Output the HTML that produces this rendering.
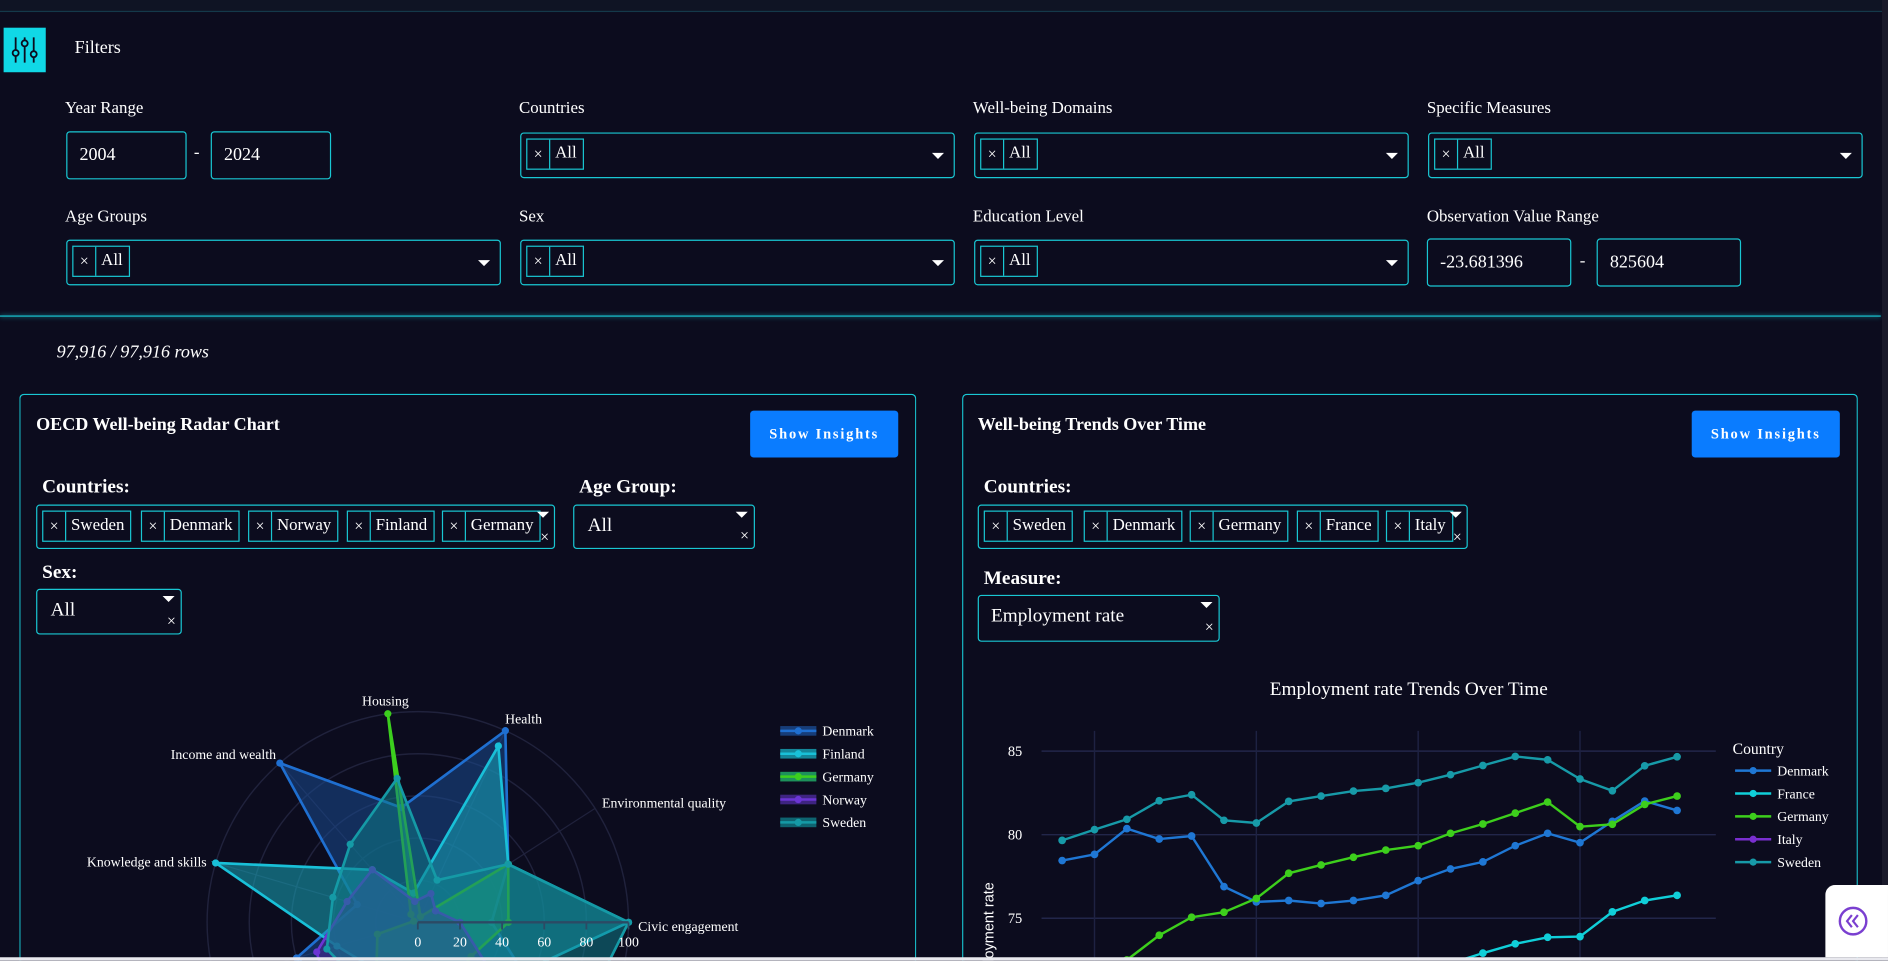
<!DOCTYPE html>
<html><head><meta charset="utf-8">
<style>
html,body{margin:0;padding:0;width:1888px;height:961px;overflow:hidden;background:#0c0c1e;}
#wrap{position:absolute;left:0;top:0;width:1568px;height:798px;transform:scale(1.20408);transform-origin:0 0;overflow:hidden;background:#0c0c1e;font-family:"Liberation Serif",serif;color:#fff;}
.abs{position:absolute;}
.lbl{position:absolute;font-size:14px;color:#fff;}
.inp{position:absolute;border:1px solid #19c7d3;border-radius:3px;box-sizing:border-box;font-size:15px;padding-left:10px;display:flex;align-items:center;background:#0c0c1e;}
.sel{position:absolute;border:1px solid #19c7d3;border-radius:3px;box-sizing:border-box;background:#0c0c1e;}
.chip{position:absolute;top:4px;height:26px;border:1px solid #19c7d3;box-sizing:border-box;font-size:14px;display:flex;align-items:center;white-space:nowrap;}
.chip span.x{display:inline-block;width:18px;text-align:center;border-right:1px solid #19c7d3;height:100%;line-height:24px;font-size:13px;margin-right:4px;}
.chip span.t{padding-right:5px;}
.caret{position:absolute;width:0;height:0;border-left:5px solid transparent;border-right:5px solid transparent;border-top:5px solid #fff;}
.card{position:absolute;top:327px;border:1px solid #19c7d3;border-bottom:none;border-radius:4px 4px 0 0;height:471px;box-sizing:border-box;}
.btn{position:absolute;top:341px;width:123px;height:39px;background:#0a7cff;border-radius:3px;color:#fff;font-weight:bold;font-size:12px;letter-spacing:1.5px;display:flex;align-items:center;justify-content:center;}
.h3{position:absolute;font-weight:bold;font-size:15px;}
.h4{position:absolute;font-weight:bold;font-size:16px;}
</style></head><body>
<div id="wrap">
<div class="abs" style="left:0;top:0;width:1568px;height:9px;background:#0f1424;border-bottom:1px solid #14394a;"></div>
<div class="abs" style="left:0;top:262px;width:1562px;height:1px;background:#19c7d3;box-shadow:0 0 4px #19c7d3;"></div>
<div class="abs" style="left:1563px;top:0;width:5px;height:798px;background:#1a1a2a;"></div>
<div class="abs" style="left:3px;top:23px;width:35px;height:37px;background:#10d8e6;">
<svg width="35" height="37" viewBox="0 0 35 37"><g stroke="#0c0c1e" stroke-width="1.5" fill="none"><line x1="10" y1="8" x2="10" y2="29"/><line x1="17.5" y1="8" x2="17.5" y2="29"/><line x1="25" y1="8" x2="25" y2="29"/><circle cx="10" cy="21" r="2.5" fill="#10d8e6"/><circle cx="17.5" cy="13" r="2.5" fill="#10d8e6"/><circle cx="25" cy="22" r="2.5" fill="#10d8e6"/></g></svg></div>
<div class="lbl" style="left:62px;top:32px;font-size:15px;">Filters</div>

<div class="lbl" style="left:54px;top:83px;">Year Range</div>
<div class="inp" style="left:55px;top:109px;width:100px;height:40px;">2004</div>
<div class="lbl" style="left:161px;top:120px;">-</div>
<div class="inp" style="left:175px;top:109px;width:100px;height:40px;">2024</div>

<div class="lbl" style="left:431px;top:83px;">Countries</div>
<div class="sel" style="left:432px;top:110px;width:361px;height:38px;"><div class="chip" style="left:4px;"><span class="x">×</span><span class="t">All</span></div><div class="caret" style="right:8px;top:16px;"></div></div>
<div class="lbl" style="left:808px;top:83px;">Well-being Domains</div>
<div class="sel" style="left:809px;top:110px;width:361px;height:38px;"><div class="chip" style="left:4px;"><span class="x">×</span><span class="t">All</span></div><div class="caret" style="right:8px;top:16px;"></div></div>
<div class="lbl" style="left:1185px;top:83px;">Specific Measures</div>
<div class="sel" style="left:1186px;top:110px;width:361px;height:38px;"><div class="chip" style="left:4px;"><span class="x">×</span><span class="t">All</span></div><div class="caret" style="right:8px;top:16px;"></div></div>

<div class="lbl" style="left:54px;top:173px;">Age Groups</div>
<div class="sel" style="left:55px;top:199px;width:361px;height:38px;"><div class="chip" style="left:4px;"><span class="x">×</span><span class="t">All</span></div><div class="caret" style="right:8px;top:16px;"></div></div>
<div class="lbl" style="left:431px;top:173px;">Sex</div>
<div class="sel" style="left:432px;top:199px;width:361px;height:38px;"><div class="chip" style="left:4px;"><span class="x">×</span><span class="t">All</span></div><div class="caret" style="right:8px;top:16px;"></div></div>
<div class="lbl" style="left:808px;top:173px;">Education Level</div>
<div class="sel" style="left:809px;top:199px;width:361px;height:38px;"><div class="chip" style="left:4px;"><span class="x">×</span><span class="t">All</span></div><div class="caret" style="right:8px;top:16px;"></div></div>
<div class="lbl" style="left:1185px;top:173px;">Observation Value Range</div>
<div class="inp" style="left:1185px;top:198px;width:120px;height:40px;">-23.681396</div>
<div class="lbl" style="left:1312px;top:210px;">-</div>
<div class="inp" style="left:1326px;top:198px;width:120px;height:40px;">825604</div>

<div class="lbl" style="left:47px;top:285px;font-style:italic;font-size:15px;">97,916 / 97,916 rows</div>

<div class="card" style="left:16px;width:745px;"></div>
<div class="h3" style="left:30px;top:345px;">OECD Well-being Radar Chart</div>
<div class="btn" style="left:623px;">Show Insights</div>
<div class="h4" style="left:35px;top:396px;">Countries:</div>
<div class="sel" style="left:30px;top:419px;width:431px;height:37px;">
<div class="chip" style="left:4px;"><span class="x">×</span><span class="t">Sweden</span></div>
<div class="chip" style="left:86px;"><span class="x">×</span><span class="t">Denmark</span></div>
<div class="chip" style="left:175px;"><span class="x">×</span><span class="t">Norway</span></div>
<div class="chip" style="left:257px;"><span class="x">×</span><span class="t">Finland</span></div>
<div class="chip" style="left:336px;"><span class="x">×</span><span class="t">Germany</span></div>
<div class="caret" style="right:4px;top:5px;"></div><div class="abs" style="right:4px;top:18px;font-size:13px;">×</div></div>
<div class="h4" style="left:481px;top:396px;">Age Group:</div>
<div class="sel" style="left:476px;top:419px;width:151px;height:37px;font-size:16px;"><div class="abs" style="left:11px;top:8px;">All</div><div class="caret" style="right:5px;top:5px;"></div><div class="abs" style="right:4px;top:17px;font-size:13px;">×</div></div>
<div class="h4" style="left:35px;top:467px;">Sex:</div>
<div class="sel" style="left:30px;top:489px;width:121px;height:38px;font-size:16px;"><div class="abs" style="left:11px;top:8px;">All</div><div class="caret" style="right:5px;top:5px;"></div><div class="abs" style="right:4px;top:18px;font-size:13px;">×</div></div>

<div class="card" style="left:799px;width:744px;"></div>
<div class="h3" style="left:812px;top:345px;">Well-being Trends Over Time</div>
<div class="btn" style="left:1405px;">Show Insights</div>
<div class="h4" style="left:817px;top:396px;">Countries:</div>
<div class="sel" style="left:812px;top:419px;width:407px;height:37px;">
<div class="chip" style="left:4px;"><span class="x">×</span><span class="t">Sweden</span></div>
<div class="chip" style="left:87px;"><span class="x">×</span><span class="t">Denmark</span></div>
<div class="chip" style="left:175px;"><span class="x">×</span><span class="t">Germany</span></div>
<div class="chip" style="left:264px;"><span class="x">×</span><span class="t">France</span></div>
<div class="chip" style="left:338px;"><span class="x">×</span><span class="t">Italy</span></div>
<div class="caret" style="right:4px;top:5px;"></div><div class="abs" style="right:4px;top:18px;font-size:13px;">×</div></div>
<div class="h4" style="left:817px;top:472px;">Measure:</div>
<div class="sel" style="left:812px;top:494px;width:201px;height:39px;font-size:16px;"><div class="abs" style="left:10px;top:8px;">Employment rate</div><div class="caret" style="right:5px;top:5px;"></div><div class="abs" style="right:4px;top:18px;font-size:13px;">×</div></div>

<svg id="charts" class="abs" style="left:0;top:0;" width="1568" height="798"></svg>

<div class="abs" style="left:1516px;top:735px;width:52px;height:60px;background:#fff;border-radius:8px 0 0 0;">
<svg width="50" height="60"><circle cx="23" cy="30" r="11" fill="none" stroke="#7a3fd0" stroke-width="2"/><path d="M22 25 l-4 5 l4 5 M27 25 l-4 5 l4 5" stroke="#7a3fd0" stroke-width="1.8" fill="none"/></svg></div>
<div class="abs" style="left:0;top:795px;width:1568px;height:3px;background:#e8e8ee;"></div>
</div>

<script>
const radarCategories = ["Civic engagement","Environmental quality","Health","Housing","Income and wealth","Knowledge and skills","Safety","Social connections","Subjective well-being","Work and job quality","Work-life balance"];
const radarCountries = ["Denmark","Finland","Germany","Norway","Sweden"];
const denmarkVals = [35,51,100,55,100,30,60,50,40,55,70];
const finlandVals = [100,51,92,14,33,100,40,30,45,60,50];
const germanyVals = [43,51,3,100,5,2,20,30,25,35,30];
const norwayVals = [20,10,15,10,33,35,50,60,55,45,40];
const swedenVals = [100,51,22,69,49,42,45,40,50,40,90];
const radarTicks = [0,20,40,60,80,100];

const years = [2004,2005,2006,2007,2008,2009,2010,2011,2012,2013,2014,2015,2016,2017,2018,2019,2020,2021,2022,2023];
const lineCountries = ["Denmark","France","Germany","Italy","Sweden"];
const denmarkEmp = [78.45,78.82,80.36,79.74,79.92,76.89,75.98,76.06,75.88,76.06,76.37,77.25,77.95,78.37,79.34,80.08,79.52,80.8,82.01,81.45];
const franceEmp = [69.5,69.8,70.2,70.4,70.1,69.5,69.4,69.6,69.8,70.2,70.6,71.3,72.3,72.91,73.47,73.86,73.9,75.38,76.06,76.37];
const germanyEmp = [70.0,71.0,72.5,73.98,75.06,75.36,76.18,77.69,78.19,78.65,79.08,79.34,80.08,80.64,81.29,81.95,80.48,80.62,81.81,82.31];
const italyEmp = [57.5,57.6,58.4,58.7,58.7,57.5,56.9,56.9,56.6,55.6,55.7,56.3,57.2,58.0,58.5,59.0,58.1,58.2,60.1,61.5];
const swedenEmp = [79.66,80.3,80.92,82.03,82.39,80.86,80.7,81.99,82.31,82.61,82.77,83.11,83.59,84.14,84.68,84.48,83.33,82.63,84.12,84.66];
const yTicks = [75,80,85];
const xGridYears = [2005,2010,2015,2020];

const NS="http://www.w3.org/2000/svg";
const svg=document.getElementById('charts');
function mk(tag,attrs,parent){const e=document.createElementNS(NS,tag);for(const k in attrs)e.setAttribute(k,attrs[k]);(parent||svg).appendChild(e);return e;}

const cx=347,cy=766,R=175;
function rPos(v,i){const a=i*2*Math.PI/radarCategories.length;const r=v/100*R;return [cx+r*Math.cos(a),cy-r*Math.sin(a)];}
const radarG=mk('g',{});


radarTicks.slice(1).forEach(t=>{const c=mk('circle',{cx:cx,cy:cy,r:t/100*R,fill:'none',stroke:'#20223c','stroke-width':1.2},radarG);

});
radarCategories.forEach((c,i)=>{const p=rPos(100,i);const l=mk('line',{x1:cx,y1:cy,x2:p[0],y2:p[1],stroke:'#20223c'},radarG);


const a=i*2*Math.PI/radarCategories.length;const lp=rPos(108,i);const ca=Math.cos(a);
const tx=mk('text',{x:lp[0]+(ca>0.3?-6:ca<-0.3?6:0),y:lp[1]+7,'font-size':11.5,fill:'#fff','font-family':'Liberation Serif, serif','text-anchor':ca>0.3?'start':ca<-0.3?'end':'middle'},radarG);tx.textContent=c;

});
const radarSeries=[[denmarkVals,'#1f6fd0','#1a4a8f'],[finlandVals,'#19c0d8','#17a5b8'],[germanyVals,'#3ccf1e','#22b36a'],[norwayVals,'#6b35d4','#4b2a9a'],[swedenVals,'#159aa6','#0f7a86']];
radarSeries.forEach((s,k)=>{const pts=s[0].map((v,i)=>rPos(v,i).join(',')).join(' ');
const pg=mk('polygon',{points:pts,fill:s[2],'fill-opacity':0.55,stroke:s[1],'stroke-width':2.2},radarG);


s[0].forEach((v,i)=>{const p=rPos(v,i);const m=mk('circle',{cx:p[0],cy:p[1],r:3,fill:s[1]},radarG);

});});
const ax=mk('line',{x1:cx,y1:cy,x2:cx+R,y2:cy,stroke:'#2c4a64','stroke-width':2},radarG);


radarTicks.forEach(t=>{const x=cx+t/100*R;mk('line',{x1:x,y1:cy,x2:x,y2:cy+6,stroke:'#2c4a64','stroke-width':1.5},radarG);
const tt=mk('text',{x:x,y:cy+20,'font-size':11.5,fill:'#fff','text-anchor':'middle','font-family':'Liberation Serif, serif'},radarG);tt.textContent=t;

});
radarCountries.forEach((c,k)=>{const y=607+k*19;const g=mk('g',{},radarG);


mk('rect',{x:648,y:y-4,width:30,height:8,fill:radarSeries[k][2],opacity:0.8},g);
mk('line',{x1:648,y1:y,x2:678,y2:y,stroke:radarSeries[k][1],'stroke-width':2},g);
mk('circle',{cx:663,cy:y,r:3,fill:radarSeries[k][1]},g);
const t=mk('text',{x:683,y:y+4,'font-size':11.5,fill:'#fff','font-family':'Liberation Serif, serif'},g);t.textContent=c;});

const lg=mk('g',{});


const px0=865,px1=1425,pTop=607;
function xS(y){return 909+(y-2005)*26.88;}
function yS(v){return 693.2-(v-80)*13.88;}
const ct=mk('text',{x:1170,y:577,'font-size':16,fill:'#fff','text-anchor':'middle','font-family':'Liberation Serif, serif'},lg);ct.textContent='Employment rate Trends Over Time';


yTicks.forEach(t=>{mk('line',{x1:px0,y1:yS(t),x2:px1,y2:yS(t),stroke:'#22264a','stroke-width':1.2},lg);
const tt=mk('text',{x:849,y:yS(t)+4,'font-size':12,fill:'#fff','text-anchor':'end','font-family':'Liberation Serif, serif'},lg);tt.textContent=t;

});
xGridYears.forEach(y=>{const l=mk('line',{x1:xS(y),y1:pTop,x2:xS(y),y2:798,stroke:'#1e2242','stroke-width':1.2},lg);

});
const yt=mk('text',{x:0,y:0,'font-size':12,fill:'#fff','text-anchor':'middle','font-family':'Liberation Sans, sans-serif',transform:'translate(825,778) rotate(-90)'},lg);yt.textContent='Employment rate';


const lineSeries=[[denmarkEmp,'#1f77d4'],[franceEmp,'#10cfd9'],[germanyEmp,'#3dcf1c'],[italyEmp,'#7a2fd0'],[swedenEmp,'#179aa8']];
const clip=mk('clipPath',{id:'plotclip'});mk('rect',{x:px0-10,y:pTop-10,width:px1-px0+20,height:200},clip);
lineSeries.forEach((s,k)=>{const g=mk('g',{'clip-path':'url(#plotclip)'},lg);


mk('polyline',{points:s[0].map((v,i)=>xS(years[i])+','+yS(v)).join(' '),fill:'none',stroke:s[1],'stroke-width':2},g);
s[0].forEach((v,i)=>{const m=mk('circle',{cx:xS(years[i]),cy:yS(v),r:3.2,fill:s[1]},g);

});});
const lt=mk('text',{x:1439,y:626,'font-size':13,fill:'#fff','font-family':'Liberation Serif, serif'},lg);lt.textContent='Country';


lineCountries.forEach((c,k)=>{const y=640+k*19;const g=mk('g',{},lg);


mk('line',{x1:1441,y1:y,x2:1471,y2:y,stroke:lineSeries[k][1],'stroke-width':2},g);
mk('circle',{cx:1456,cy:y,r:3,fill:lineSeries[k][1]},g);
const t=mk('text',{x:1476,y:y+4,'font-size':11.5,fill:'#fff','font-family':'Liberation Serif, serif'},g);t.textContent=c;});
</script>
</body></html>
